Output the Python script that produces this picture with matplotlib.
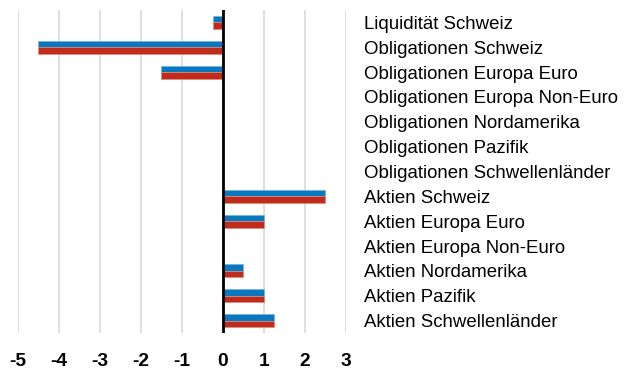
import matplotlib.pyplot as plt
import numpy as np

plt.rcParams['font.family'] = ['Liberation Sans', 'DejaVu Sans']

# Anlageklassen und Abweichungen (in Prozentpunkten)
kategorien = [
    'Liquidität Schweiz',
    'Obligationen Schweiz',
    'Obligationen Europa Euro',
    'Obligationen Europa Non-Euro',
    'Obligationen Nordamerika',
    'Obligationen Pazifik',
    'Obligationen Schwellenländer',
    'Aktien Schweiz',
    'Aktien Europa Euro',
    'Aktien Europa Non-Euro',
    'Aktien Nordamerika',
    'Aktien Pazifik',
    'Aktien Schwellenländer',
]
serie_blau = [-0.25, -4.5, -1.5, 0, 0, 0, 0, 2.5, 1.0, 0, 0.5, 1.0, 1.25]
serie_rot = [-0.25, -4.5, -1.5, 0, 0, 0, 0, 2.5, 1.0, 0, 0.5, 1.0, 1.25]
x_ticks = [-5, -4, -3, -2, -1, 0, 1, 2, 3]

fig = plt.figure(figsize=(6.31, 3.69), dpi=100)
ax = fig.add_axes([17.5 / 631, 36 / 369, (346 - 17.5) / 631, 323 / 369])

y = np.arange(len(kategorien))
h = 0.26
ax.barh(y - h / 2, serie_blau, height=h, color='#0a78bf',
        edgecolor='#6fb4e0', linewidth=0.5, zorder=3)
ax.barh(y + h / 2, serie_rot, height=h, color='#bf2c1b',
        edgecolor='#e08a80', linewidth=0.5, zorder=3)

ax.set_xlim(-5, 3)
ax.set_ylim(len(kategorien) - 0.5, -0.5)

ax.set_xticks(x_ticks)
ax.set_xticklabels([str(t) for t in x_ticks], fontsize=13.8, fontweight='bold')
ax.grid(axis='x', color='#d9d9d9', linewidth=1.2, zorder=0)
ax.axvline(0, color='black', linewidth=2, zorder=4)

ax.yaxis.tick_right()
ax.set_yticks(y)
ax.set_yticklabels(kategorien, fontsize=13.4)
ax.tick_params(axis='y', length=0, pad=13)
ax.tick_params(axis='x', length=0, pad=14.5)

for s in ax.spines.values():
    s.set_visible(False)

fig.savefig('out.png', dpi=100)
